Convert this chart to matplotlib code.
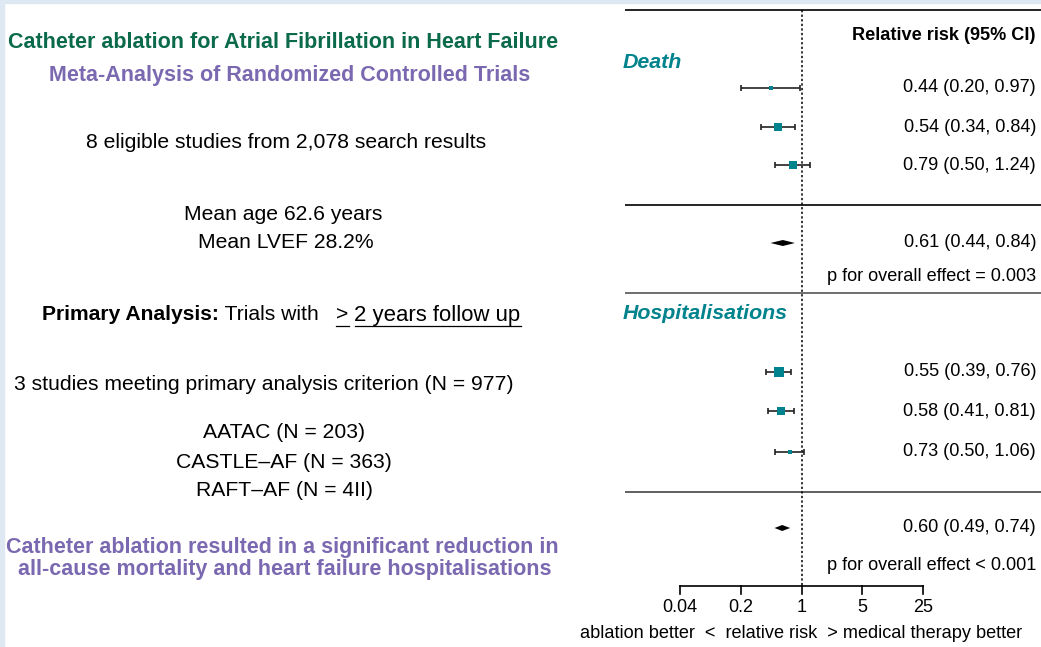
import numpy as np
import matplotlib

matplotlib.use("Agg")
import matplotlib.pyplot as plt
from matplotlib.patches import Rectangle
from matplotlib.lines import Line2D

plt.rcParams["font.family"] = ["Liberation Sans", "DejaVu Sans"]

# ----------------------------------------------------------------------
# Data
# ----------------------------------------------------------------------
death_rr = [0.44, 0.54, 0.79]
death_lo = [0.20, 0.34, 0.50]
death_hi = [0.97, 0.84, 1.24]
death_weight = [3, 8, 8]
death_pooled = (0.61, 0.44, 0.84)
death_p = "p for overall effect = 0.003"

hosp_rr = [0.55, 0.58, 0.73]
hosp_lo = [0.39, 0.41, 0.50]
hosp_hi = [0.76, 0.81, 1.06]
hosp_weight = [9, 8, 4]
hosp_pooled = (0.60, 0.49, 0.74)
hosp_p = "p for overall effect < 0.001"

axis_ticks = [0.04, 0.2, 1, 5, 25]
axis_ticklabels = ["0.04", "0.2", "1", "5", "25"]

trials = ["AATAC (N = 203)", "CASTLE\u2013AF (N = 363)", "RAFT\u2013AF (N = 4II)"]

# ----------------------------------------------------------------------
# Layout (pixels of a 1041 x 647 canvas)
# ----------------------------------------------------------------------
W, H = 1041, 647
TEAL = "#00838c"
GREEN = "#0b6a4b"
PURPLE = "#7a68b0"
BODY = 15.2
RIGHT = 13.1


def fp(x, y):
    return x / W, 1 - y / H


fig = plt.figure(figsize=(W / 100, H / 100), dpi=100)
fig.patch.set_facecolor("white")
fig.patches.append(Rectangle((0, 0), 4 / W, 1, transform=fig.transFigure,
                             color="#dde8f3", zorder=0))
fig.patches.append(Rectangle((0, 1 - 3 / H), 1, 3 / H, transform=fig.transFigure,
                             color="#dde8f3", zorder=0))

# ----------------------------------------------------------------------
# Left panel text
# ----------------------------------------------------------------------
def ftext(x, y, s, **kw):
    kw.setdefault("ha", "center")
    kw.setdefault("va", "center")
    kw.setdefault("fontsize", BODY)
    return fig.text(*fp(x, y), s, **kw)


ftext(283, 43, "Catheter ablation for Atrial Fibrillation in Heart Failure",
      fontsize=15.5, fontweight="bold", color=GREEN)
ftext(290, 75, "Meta-Analysis of Randomized Controlled Trials",
      fontsize=15.5, fontweight="bold", color=PURPLE)
ftext(286, 143, "8 eligible studies from 2,078 search results")
ftext(283, 214, "Mean age 62.6 years")
ftext(286, 243, "Mean LVEF 28.2%")
ftext(264, 385, "3 studies meeting primary analysis criterion (N = 977)")
for y, s in zip([433, 462, 491], trials):
    ftext(284, y, s)
ftext(282, 548, "Catheter ablation resulted in a significant reduction in",
      fontsize=15.5, fontweight="bold", color=PURPLE)
ftext(285, 570, "all-cause mortality and heart failure hospitalisations",
      fontsize=15.5, fontweight="bold", color=PURPLE)

# Primary analysis line built piece by piece
renderer = fig.canvas.get_renderer()
x_cur = 42
pieces = [("Primary Analysis:", "bold", False, BODY),
          (" Trials with   ", "normal", False, BODY),
          (">", "normal", True, BODY), (" ", "normal", False, BODY),
          ("2 years follow up", "normal", True, 15.9)]
for s, weight, under, size in pieces:
    t = fig.text(*fp(x_cur, 315), s, ha="left", va="center", fontsize=size,
                 fontweight=weight)
    bb = t.get_window_extent(renderer)
    if under:
        fig.lines.append(Line2D([x_cur / W, (x_cur + bb.width) / W],
                                [1 - 326 / H, 1 - 326 / H],
                                transform=fig.transFigure, color="black", lw=0.9))
    x_cur += bb.width

# ----------------------------------------------------------------------
# Forest plot
# ----------------------------------------------------------------------
x0_px, x1_px = 625, W
dec_px = (923 - 680) / np.log10(25 / 0.04)
lo_lim = 10 ** (np.log10(0.04) - (680 - x0_px) / dec_px)
hi_lim = 10 ** (np.log10(25) + (x1_px - 923) / dec_px)

ax = fig.add_axes([x0_px / W, 0, (x1_px - x0_px) / W, 1])
ax.set_xscale("log")
ax.set_xlim(lo_lim, hi_lim)
ax.set_ylim(H, 0)
ax.axis("off")

for y, c in zip([10, 205, 293, 492], ["black", "black", "#555555", "#444444"]):
    ax.axhline(y, color=c, lw=1.2)

ax.plot([1, 1], [10, 586], color="black", lw=1.1, linestyle=(0, (1.5, 1.5)))


def study_rows(ys, rr, lo, hi, wt):
    for y, r, l, h, w in zip(ys, rr, lo, hi, wt):
        ax.errorbar(r, y, xerr=[[r - l], [h - r]], fmt="none", ecolor="#222222",
                    elinewidth=1.2, capsize=2.5, capthick=1.2)
        ax.plot(r, y, marker="s", markersize=w * 0.75, color=TEAL,
                markeredgewidth=0, linestyle="none", zorder=3)


def diamond(y, pooled):
    r, l, h = pooled
    ax.fill([l, r, h, r], [y, y - 3, y, y + 3], color="black", lw=0)


def fmt(r, l, h):
    return f"{r:.2f} ({l:.2f}, {h:.2f})"


def rtext(y, s, **kw):
    kw.setdefault("fontsize", RIGHT)
    fig.text(*fp(1036, y), s, ha="right", va="center", **kw)


death_y = [88, 127, 165]
hosp_y = [372, 411, 452]
study_rows(death_y, death_rr, death_lo, death_hi, death_weight)
study_rows(hosp_y, hosp_rr, hosp_lo, hosp_hi, hosp_weight)
diamond(243, death_pooled)
diamond(528, hosp_pooled)

rtext(36, "Relative risk (95% CI)", fontweight="bold")
for y, r, l, h in zip(death_y, death_rr, death_lo, death_hi):
    rtext(y, fmt(r, l, h))
rtext(243, fmt(*death_pooled))
rtext(276, death_p)
for y, r, l, h in zip(hosp_y, hosp_rr, hosp_lo, hosp_hi):
    rtext(y, fmt(r, l, h))
rtext(528, fmt(*hosp_pooled))
rtext(566, hosp_p)

fig.text(*fp(623, 62), "Death", ha="left", va="center", fontsize=15.4,
         fontweight="bold", fontstyle="italic", color=TEAL)
fig.text(*fp(623, 314), "Hospitalisations", ha="left", va="center", fontsize=15.4,
         fontweight="bold", fontstyle="italic", color=TEAL)

# bottom axis
ax.plot([axis_ticks[0], axis_ticks[-1]], [586, 586], color="black", lw=1.2)
for t, lab in zip(axis_ticks, axis_ticklabels):
    ax.plot([t, t], [586, 594], color="black", lw=1.2)
    ax.text(t, 607, lab, ha="center", va="center", fontsize=13)
fig.text(*fp(801, 633), "ablation better  <  relative risk  > medical therapy better",
         ha="center", va="center", fontsize=RIGHT)

fig.savefig("out.png", dpi=100)
